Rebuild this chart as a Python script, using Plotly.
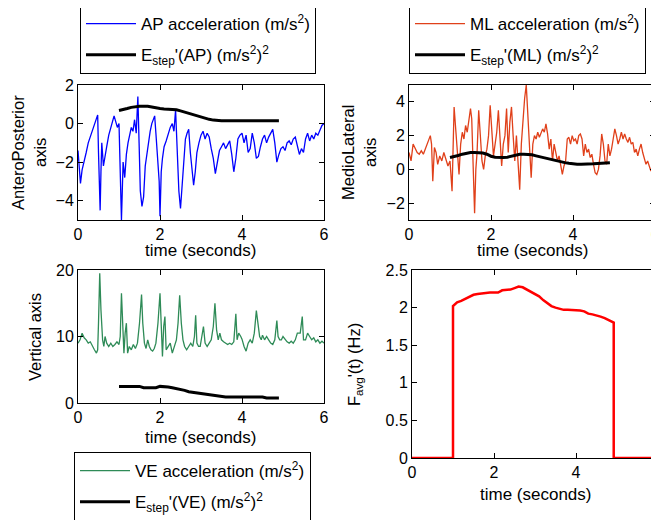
import plotly.graph_objects as go

# ---------------- data ----------------
ap_t = [0.00,0.03,0.06,0.10,0.15,0.20,0.25,0.30,0.35,0.40,0.45,0.48,0.50,0.52,0.54,0.56,0.58,0.62,0.66,0.70,
        0.75,0.80,0.85,0.88,0.92,0.96,1.00,1.03,1.06,1.08,1.10,1.14,1.18,1.22,1.26,1.30,1.34,1.38,1.42,1.46,
        1.49,1.52,1.56,1.60,1.64,1.68,1.72,1.76,1.80,1.84,1.87,1.90,1.94,1.98,2.00,2.03,2.06,2.10,2.15,2.20,
        2.25,2.30,2.34,2.38,2.42,2.46,2.50,2.54,2.58,2.62,2.66,2.70,2.74,2.78,2.82,2.86,2.90,2.95,3.00,3.05,
        3.10,3.15,3.20,3.25,3.30,3.35,3.40,3.45,3.50,3.55,3.60,3.65,3.70,3.75,3.80,3.85,3.90,3.95,4.00,4.05,
        4.10,4.15,4.20,4.25,4.30,4.35,4.40,4.45,4.50,4.55,4.60,4.65,4.70,4.75,4.80,4.85,4.90,4.95,5.00,5.05,
        5.10,5.15,5.20,5.25,5.30,5.35,5.40,5.45,5.50,5.55,5.60,5.65,5.70,5.75,5.80,5.85,5.90,5.95,6.00]
ap_v = [-1.4,-2.6,-3.1,-2.4,-2.0,-1.5,-1.0,-0.7,-0.3,0.0,0.2,0.45,-1.5,-3.5,-4.5,-2.5,-1.0,-2.2,-1.6,-1.2,
        -0.6,-0.2,0.3,0.4,0.1,-0.2,0.0,-2.0,-5.0,-3.5,-2.0,-2.8,-1.6,-1.0,-0.6,-0.2,-0.4,0.2,-0.5,1.4,
        -1.0,-3.5,-4.3,-3.8,-2.2,-1.5,-1.0,-0.4,0.0,0.3,0.4,-0.5,-2.0,-3.0,-4.8,-2.5,-1.8,-1.2,-0.9,-0.5,
        -0.2,0.0,-0.4,0.7,-1.5,-3.5,-4.4,-3.0,-2.0,-0.8,-0.5,-0.3,-1.5,-2.5,-3.2,-2.5,-1.5,-1.0,-0.6,-0.4,
        -0.8,-0.5,-0.7,-1.3,-1.8,-2.6,-2.0,-1.4,-1.2,-1.0,-1.3,-1.1,-0.9,-1.6,-2.5,-1.8,-0.8,-0.6,-0.5,-1.0,
        -0.6,-1.5,-1.3,-0.5,-1.0,-1.8,-1.7,-1.2,-0.8,-0.6,-1.0,-0.7,-0.5,-0.3,-1.0,-2.0,-1.6,-1.3,-1.2,-1.4,
        -1.0,-0.9,-1.1,-0.8,-0.7,-1.2,-1.6,-1.3,-1.5,-0.8,-0.5,-0.9,-0.6,-0.8,-0.5,-0.6,-0.3,-0.1,0.0]

est_t = [1.0,1.1,1.2,1.3,1.4,1.5,1.6,1.7,1.8,1.9,2.0,2.1,2.2,2.3,2.4,2.5,2.6,2.7,2.8,2.9,
         3.0,3.1,3.2,3.3,3.4,3.5,3.6,3.7,3.8,3.9,4.0,4.1,4.2,4.3,4.4,4.5,4.6,4.7,4.8,4.9]
est_ap = [0.68,0.72,0.78,0.84,0.88,0.90,0.90,0.90,0.86,0.80,0.78,0.76,0.75,0.75,0.72,0.66,0.60,0.52,0.44,0.38,
          0.32,0.26,0.22,0.18,0.15,0.15,0.15,0.15,0.15,0.15,0.15,0.15,0.15,0.15,0.15,0.15,0.15,0.15,0.15,0.15]

ml_t = [0.00,0.05,0.10,0.15,0.20,0.25,0.30,0.35,0.40,0.45,0.50,0.52,0.55,0.58,0.62,0.66,0.70,0.75,0.80,0.85,
        0.90,0.95,1.00,1.05,1.10,1.14,1.18,1.22,1.26,1.30,1.34,1.38,1.42,1.46,1.50,1.53,1.56,1.60,1.63,1.66,
        1.70,1.74,1.78,1.82,1.86,1.90,1.94,1.98,2.02,2.06,2.10,2.14,2.18,2.22,2.26,2.30,2.34,2.38,2.42,2.46,
        2.50,2.54,2.58,2.62,2.66,2.70,2.74,2.78,2.82,2.86,2.90,2.94,2.98,3.02,3.06,3.10,3.14,3.18,3.22,3.26,
        3.30,3.34,3.38,3.42,3.46,3.50,3.54,3.58,3.62,3.66,3.70,3.74,3.78,3.82,3.86,3.90,3.94,3.98,4.02,4.06,
        4.10,4.14,4.18,4.22,4.26,4.30,4.34,4.38,4.42,4.46,4.50,4.54,4.58,4.62,4.66,4.70,4.74,4.78,4.82,4.86,
        4.90,4.94,4.98,5.02,5.06,5.10,5.14,5.18,5.22,5.26,5.30,5.34,5.38,5.42,5.46,5.50,5.54,5.58,5.62,5.66,
        5.70,5.74,5.78,5.82,5.86,5.90,5.94,5.98,6.00]
ml_v = [1.0,0.5,1.5,1.2,1.0,0.9,1.1,0.9,1.2,1.5,1.8,2.0,1.5,-0.7,1.3,1.0,0.3,0.8,0.5,1.0,
        0.6,0.2,0.5,-1.3,3.7,2.5,1.0,-0.3,1.5,2.2,1.8,2.6,2.2,3.0,3.6,3.0,0.5,-2.6,0.0,1.0,
        3.5,2.0,0.5,0.0,0.8,1.2,2.0,3.8,2.5,0.8,1.5,2.2,3.5,1.5,0.2,1.5,2.0,3.6,1.0,2.8,
        3.7,2.0,0.5,2.0,0.0,-1.2,1.5,3.0,4.2,5.0,3.0,1.0,-0.5,1.5,2.0,1.8,2.2,1.9,2.2,2.4,
        2.2,2.7,2.1,1.2,1.8,0.5,1.5,1.0,0.5,0.8,0.3,-0.3,0.2,0.5,1.8,1.9,1.5,2.0,1.7,1.8,
        1.5,2.0,2.1,1.8,0.8,1.5,1.0,1.2,0.7,0.9,0.3,-0.2,-0.3,0.0,0.8,2.1,1.5,0.5,0.3,1.5,
        0.8,1.2,1.8,2.4,2.0,1.5,1.8,2.2,1.8,2.1,1.8,1.6,1.9,1.5,1.6,1.0,1.2,0.8,1.2,1.5,
        1.0,0.6,0.3,0.5,0.2,-0.1,0.3,0.6,0.5]

est_ml = [0.70,0.75,0.82,0.90,0.96,1.00,1.00,1.00,0.97,0.90,0.78,0.72,0.70,0.70,0.72,0.78,0.85,0.90,0.90,0.90,
          0.86,0.80,0.74,0.68,0.62,0.55,0.50,0.45,0.40,0.36,0.32,0.30,0.30,0.30,0.30,0.33,0.35,0.37,0.39,0.40]

ve_t = [0.00,0.05,0.10,0.15,0.20,0.25,0.30,0.35,0.40,0.45,0.48,0.50,0.53,0.56,0.60,0.63,0.66,0.70,0.75,0.80,
        0.85,0.90,0.95,1.00,1.03,1.06,1.09,1.12,1.15,1.18,1.21,1.25,1.30,1.35,1.40,1.45,1.50,1.55,1.58,1.62,
        1.66,1.70,1.74,1.78,1.82,1.86,1.90,1.95,2.00,2.03,2.06,2.09,2.12,2.15,2.20,2.25,2.30,2.35,2.40,2.44,
        2.48,2.52,2.56,2.60,2.65,2.70,2.75,2.80,2.84,2.87,2.90,2.94,2.98,3.02,3.06,3.10,3.15,3.20,3.25,3.30,
        3.34,3.38,3.42,3.46,3.50,3.55,3.60,3.65,3.70,3.75,3.80,3.85,3.88,3.92,3.97,4.00,4.05,4.10,4.15,4.20,
        4.25,4.30,4.35,4.39,4.43,4.47,4.50,4.55,4.60,4.65,4.70,4.75,4.80,4.85,4.88,4.92,4.96,5.00,5.05,5.10,
        5.15,5.20,5.25,5.30,5.35,5.42,5.47,5.50,5.55,5.60,5.65,5.70,5.75,5.80,5.85,5.90,5.95,6.00]
ve_v = [9.0,9.5,10.5,9.8,9.5,9.0,9.2,8.5,8.0,7.5,8.0,12.0,19.5,14.0,9.5,8.5,10.0,9.0,8.5,9.0,
        8.5,8.8,9.2,8.8,10.0,16.5,13.0,7.5,10.5,12.0,7.5,8.5,8.0,8.8,8.2,9.0,12.0,16.3,12.0,9.0,
        8.2,9.5,8.5,8.0,7.8,8.2,9.0,12.0,16.5,11.0,7.0,11.5,13.0,8.0,8.5,9.0,7.5,8.5,9.5,12.0,
        16.2,12.0,9.5,8.5,8.0,8.5,9.0,8.5,10.0,13.2,9.0,8.5,8.5,10.0,11.5,9.0,8.5,9.0,9.5,11.5,
        15.0,11.0,9.5,10.5,9.5,9.2,9.0,8.8,9.0,8.8,9.2,13.4,9.5,10.5,10.0,9.6,8.5,7.8,9.0,9.5,
        9.0,10.5,13.9,11.5,10.0,9.5,10.2,9.5,10.0,9.5,9.0,8.8,9.5,12.4,10.0,9.5,9.5,10.0,9.5,9.2,
        9.0,9.3,9.0,9.5,10.5,10.5,13.0,9.5,9.5,10.5,10.0,9.5,9.8,9.2,9.5,9.0,9.3,9.0]

est_ve = [2.5,2.5,2.5,2.5,2.5,2.5,2.3,2.3,2.3,2.3,2.5,2.5,2.4,2.3,2.2,2.0,1.9,1.7,1.6,1.5,
          1.5,1.3,1.2,1.1,1.0,0.9,0.9,0.9,0.9,0.9,0.9,0.9,0.9,0.9,0.9,0.9,0.75,0.75,0.75,0.75]

f_t = [0.0,1.0,1.0,1.1,1.2,1.3,1.4,1.5,1.6,1.7,1.8,1.9,2.0,2.1,2.2,2.3,2.4,2.5,2.6,2.7,
       2.8,2.9,3.0,3.1,3.2,3.3,3.4,3.5,3.6,3.7,3.8,3.9,4.0,4.1,4.2,4.3,4.4,4.5,4.6,4.7,
       4.8,4.9,4.92,4.92,6.0]
f_v = [0.0,0.0,2.02,2.07,2.09,2.12,2.14,2.17,2.18,2.19,2.19,2.20,2.20,2.20,2.23,2.23,2.24,2.26,2.28,2.27,
       2.24,2.21,2.18,2.15,2.10,2.06,2.02,2.00,1.98,1.97,1.97,1.97,1.96,1.96,1.95,1.92,1.91,1.90,1.88,1.86,
       1.83,1.80,1.80,0.0,0.0]

ap_ticks = [-4, -2, 0, 2]
ml_ticks = [-2, 0, 2, 4]
ve_ticks = [0, 10, 20]
f_ticks = [0, 0.5, 1, 1.5, 2, 2.5]
f_ticklabels = ["0", "0.5", "1", "1.5", "2", "2.5"]
x_ticks = [0, 2, 4, 6]

# ---------------- figure ----------------
# The page body has an 8px default margin, so the figure is sized to fit the
# 659x520 window and screen positions are shifted by that offset.
OFF = 8
W, H = 659 - OFF, 520 - OFF
FONT = "Liberation Sans, Arial, sans-serif"


def px_x(p):
    return (p - OFF) / W


def px_y(p):
    return 1 - (p - OFF) / H


fig = go.Figure()

fig.add_trace(go.Scatter(x=ap_t, y=ap_v, mode="lines", line=dict(color="#0000ff", width=1.3),
                         name="AP acceleration (m/s<sup>2</sup>)", xaxis="x", yaxis="y",
                         legend="legend", legendgroup="a1"))
fig.add_trace(go.Scatter(x=est_t, y=est_ap, mode="lines", line=dict(color="black", width=3),
                         name="E<sub>step</sub>'(AP) (m/s<sup>2</sup>)<sup>2</sup>", xaxis="x", yaxis="y",
                         legend="legend", legendgroup="a2"))
fig.add_trace(go.Scatter(x=ml_t, y=ml_v, mode="lines", line=dict(color="#e0401a", width=1.3),
                         name="ML acceleration (m/s<sup>2</sup>)", xaxis="x2", yaxis="y2",
                         legend="legend2", legendgroup="b1"))
fig.add_trace(go.Scatter(x=est_t, y=est_ml, mode="lines", line=dict(color="black", width=3),
                         name="E<sub>step</sub>'(ML) (m/s<sup>2</sup>)<sup>2</sup>", xaxis="x2", yaxis="y2",
                         legend="legend2", legendgroup="b2"))
fig.add_trace(go.Scatter(x=ve_t, y=ve_v, mode="lines", line=dict(color="#2e8b57", width=1.3),
                         name="VE acceleration (m/s<sup>2</sup>)", xaxis="x3", yaxis="y3",
                         legend="legend3", legendgroup="c1"))
fig.add_trace(go.Scatter(x=est_t, y=est_ve, mode="lines", line=dict(color="black", width=3),
                         name="E<sub>step</sub>'(VE) (m/s<sup>2</sup>)<sup>2</sup>", xaxis="x3", yaxis="y3",
                         legend="legend3", legendgroup="c2"))
fig.add_trace(go.Scatter(x=f_t, y=f_v, mode="lines", line=dict(color="#ff0000", width=2.5),
                         showlegend=False, xaxis="x4", yaxis="y4"))

axis_common = dict(showline=True, linecolor="black", linewidth=1, mirror="ticks", ticks="inside",
                   ticklen=5, tickcolor="black", showgrid=False, zeroline=False, automargin=False,
                   ticklabeloverflow="allow",
                   tickfont=dict(size=16, color="black", family=FONT))

panels = {
    "": dict(x=(78, 324), y=(85, 220), yr=[-5, 2], yt=ap_ticks, ytl=None),
    "2": dict(x=(409, 655), y=(85, 220), yr=[-3, 5], yt=ml_ticks, ytl=None),
    "3": dict(x=(78, 324), y=(270, 403), yr=[0, 20], yt=ve_ticks, ytl=None),
    "4": dict(x=(412, 658), y=(270, 458), yr=[0, 2.5], yt=f_ticks, ytl=f_ticklabels),
}
layout_axes = {}
for k, p in panels.items():
    layout_axes["xaxis" + k] = dict(axis_common, domain=[px_x(p["x"][0]), min(1, px_x(p["x"][1]))],
                                    anchor="y" + k, range=[0, 6], tickvals=x_ticks)
    ya = dict(axis_common, domain=[px_y(p["y"][1]), px_y(p["y"][0])], anchor="x" + k,
              range=p["yr"], tickvals=p["yt"])
    if p["ytl"]:
        ya["ticktext"] = p["ytl"]
    layout_axes["yaxis" + k] = ya

legend_common = dict(bgcolor="white", bordercolor="black", borderwidth=1,
                     font=dict(size=17, color="black", family=FONT),
                     xanchor="left", yanchor="top", itemwidth=50, tracegroupgap=6)

anns = []


def txt(x, y, s, angle=0, size=17):
    anns.append(dict(x=px_x(x), y=px_y(y), xref="paper", yref="paper", text=s, showarrow=False,
                     textangle=angle, xanchor="center", yanchor="middle",
                     font=dict(size=size, color="black", family=FONT)))


txt(201, 250, "time (seconds)")
txt(532, 250, "time (seconds)")
txt(201, 437, "time (seconds)")
txt(535, 494, "time (seconds)")
txt(18, 153, "AnteroPosterior", -90, 16.5)
txt(40, 153, "axis", -90, 16.5)
txt(348, 153, "MedioLateral", -90, 16.5)
txt(370, 153, "axis", -90, 16.5)
txt(35, 337, "Vertical axis", -90, 16.5)
txt(355, 365, "F<sub>avg</sub>'(t) (Hz)", -90, 16.5)

fig.update_layout(
    width=W, height=H, margin=dict(l=0, r=0, t=0, b=0, autoexpand=False),
    paper_bgcolor="white", plot_bgcolor="white",
    font=dict(family=FONT, size=16, color="black"),
    legend=dict(legend_common, x=px_x(80), y=px_y(5)),
    legend2=dict(legend_common, x=px_x(409), y=px_y(5)),
    legend3=dict(legend_common, x=px_x(74), y=px_y(452)),
    annotations=anns,
    **layout_axes,
)

fig.write_html("out.html")
